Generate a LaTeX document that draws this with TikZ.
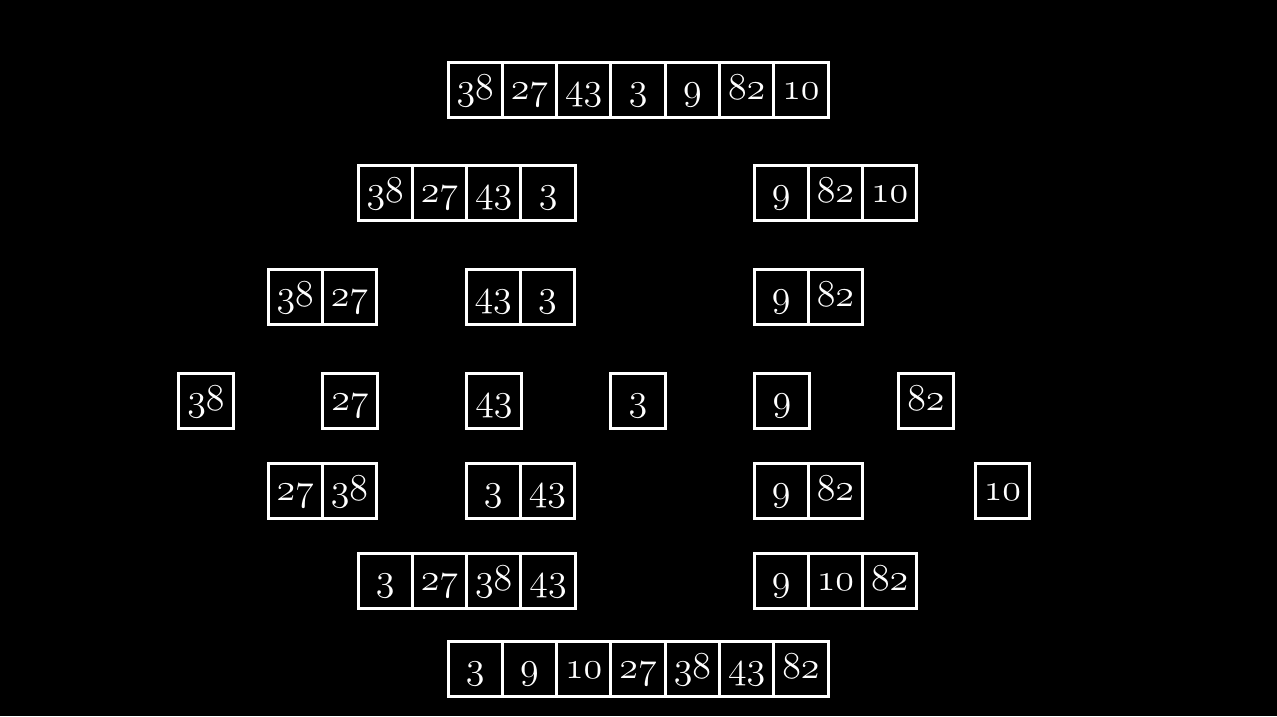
\documentclass[tikz,border=0pt]{standalone}
\usepackage{fix-cm}
\tikzset{
  cell/.style={draw=white, line width=3pt, fill=black, text=white, inner sep=0pt,
    minimum width=54.3pt, minimum height=55pt, text height=22pt, text depth=3pt,
    font=\fontsize{38}{42}\usefont{OML}{cmm}{m}{it}},
}
\newcommand{\arr}[4]{% name prefix, x of first centre, y centre, list
  \foreach \v [count=\i from 0] in {#4} {
    \node[cell] (#1\i) at ({#2+54.3*\i},#3) {\v};
  }%
}
\begin{document}
\begin{tikzpicture}[x=1pt,y=-1pt]
\fill[black] (0,0) rectangle (1277,716);
\useasboundingbox (0,0) rectangle (1277,716);
% row 1
\arr{a}{475.15}{89.5}{38,27,43,3,9,82,10}
% row 2
\arr{b}{385.15}{193}{38,27,43,3}
\arr{c}{781.15}{193}{9,82,10}
% row 3
\arr{d}{295.15}{296.5}{38,27}
\arr{e}{493.15}{296.5}{43,3}
\arr{f}{781.15}{296.5}{9,82}
% row 4
\arr{g}{206}{400.5}{38}
\arr{h}{350}{400.5}{27}
\arr{i}{494}{400.5}{43}
\arr{j}{638}{400.5}{3}
\arr{k}{782}{400.5}{9}
\arr{l}{926}{400.5}{82}
% row 5
\arr{m}{295.15}{490.5}{27,38}
\arr{n}{493.15}{490.5}{3,43}
\arr{o}{781.15}{490.5}{9,82}
\arr{p}{1002.5}{490.5}{10}
% row 6
\arr{q}{385.15}{580.5}{3,27,38,43}
\arr{r}{781.15}{580.5}{9,10,82}
% row 7
\arr{s}{475.15}{668.5}{3,9,10,27,38,43,82}
\end{tikzpicture}
\end{document}
